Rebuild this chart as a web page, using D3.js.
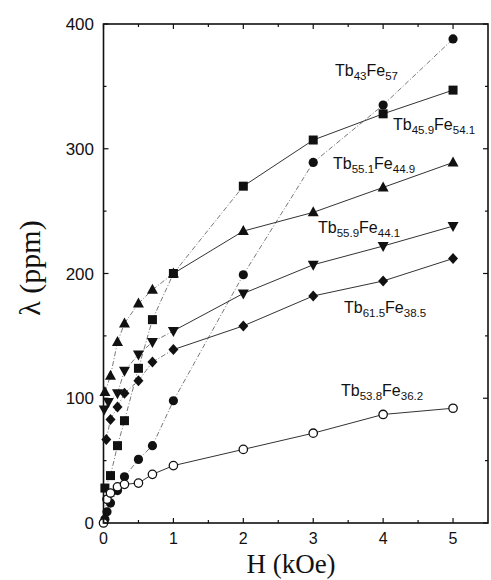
<!DOCTYPE html>
<html>
<head>
<meta charset="utf-8">
<script src="https://cdn.jsdelivr.net/npm/d3@7"></script>
<style>
  html, body { margin: 0; padding: 0; background: #fff; }
  svg { display: block; }
</style>
</head>
<body>
<div id="chart"></div>
<script>
// Magnetostriction λ versus applied field H for Tb–Fe films
const xTicks = [0, 1, 2, 3, 4, 5];
const yTicks = [0, 100, 200, 300, 400];

const hTb43 = [0.02, 0.05, 0.1, 0.2, 0.3, 0.5, 0.7, 1, 2, 3, 4, 5];
const lamTb43 = [3, 9, 16, 26, 37, 51, 62, 98, 199, 289, 335, 388];

const hTb459 = [0.02, 0.1, 0.2, 0.3, 0.5, 0.7, 1, 2, 3, 4, 5];
const lamTb459 = [28, 38, 62, 82, 124, 163, 200, 270, 307, 328, 347];

const hTb551 = [0.02, 0.1, 0.2, 0.3, 0.5, 0.7, 1, 2, 3, 4, 5];
const lamTb551 = [105, 118, 145, 160, 176, 187, 200, 234, 249, 269, 289];

const hTb559 = [0.01, 0.07, 0.2, 0.3, 0.5, 0.7, 1, 2, 3, 4, 5];
const lamTb559 = [91, 97, 104, 122, 135, 145, 154, 184, 207, 222, 238];

const hTb615 = [0.04, 0.1, 0.2, 0.3, 0.5, 0.7, 1, 2, 3, 4, 5];
const lamTb615 = [67, 83, 93, 104, 114, 129, 139, 158, 182, 194, 212];

const hTb538 = [0, 0.05, 0.1, 0.2, 0.3, 0.5, 0.7, 1, 2, 3, 4, 5];
const lamTb538 = [0, 19, 24, 29, 31, 32, 39, 46, 59, 72, 87, 92];

// composition labels: [Tb, subscript, Fe, subscript]
const labelTb43 = ["Tb", "43", "Fe", "57"];
const labelTb459 = ["Tb", "45.9", "Fe", "54.1"];
const labelTb551 = ["Tb", "55.1", "Fe", "44.9"];
const labelTb559 = ["Tb", "55.9", "Fe", "44.1"];
const labelTb615 = ["Tb", "61.5", "Fe", "38.5"];
const labelTb538 = ["Tb", "53.8", "Fe", "36.2"];

const W = 491, H = 580;
const plot = { left: 103.5, right: 488, top: 24, bottom: 523 };

const x = d3.scaleLinear().domain([0, 5.5]).range([plot.left, plot.right]);
const y = d3.scaleLinear().domain([0, 400]).range([plot.bottom, plot.top]);

const svg = d3.select("#chart").append("svg")
  .attr("width", W).attr("height", H);

const ink = "#111";

// series: marker shape, dash-dot limit (segments ending at or below it are dash-dot)
const series = [
  { h: hTb43, v: lamTb43, shape: "circle", dashTo: 99, label: labelTb43, lx: 335, ly: 76 },
  { h: hTb459, v: lamTb459, shape: "square", dashTo: 2, label: labelTb459, lx: 393, ly: 130 },
  { h: hTb551, v: lamTb551, shape: "triangleUp", dashTo: 1, label: labelTb551, lx: 333, ly: 169 },
  { h: hTb559, v: lamTb559, shape: "triangleDown", dashTo: 1, label: labelTb559, lx: 318, ly: 233 },
  { h: hTb615, v: lamTb615, shape: "diamond", dashTo: 1, label: labelTb615, lx: 344, ly: 313 },
  { h: hTb538, v: lamTb538, shape: "open", dashTo: 0.3, label: labelTb538, lx: 341, ly: 396 }
];

// connecting lines, segment by segment
const gLines = svg.append("g");
series.forEach(s => {
  const pts = s.h.map((hv, i) => [hv, s.v[i]]);
  for (let i = 1; i < pts.length; i++) {
    const a = pts[i - 1], b = pts[i];
    const dashed = b[0] <= s.dashTo;
    gLines.append("line")
      .attr("x1", x(a[0])).attr("y1", y(a[1]))
      .attr("x2", x(b[0])).attr("y2", y(b[1]))
      .attr("stroke", dashed ? "#555" : "#333")
      .attr("stroke-width", dashed ? 0.8 : 1)
      .attr("stroke-dasharray", dashed ? "5,2,1,2" : null);
  }
});

// markers
const gMarks = svg.append("g");
function marker(g, shape, cx, cy) {
  if (shape === "circle") {
    g.append("circle").attr("cx", cx).attr("cy", cy).attr("r", 4.6).attr("fill", ink);
  } else if (shape === "open") {
    g.append("circle").attr("cx", cx).attr("cy", cy).attr("r", 4.2)
      .attr("fill", "#fff").attr("stroke", ink).attr("stroke-width", 1.3);
  } else if (shape === "square") {
    g.append("rect").attr("x", cx - 4.5).attr("y", cy - 4.5)
      .attr("width", 9).attr("height", 9).attr("fill", ink);
  } else if (shape === "triangleUp") {
    g.append("path").attr("d", `M${cx},${cy - 6}L${cx + 5.5},${cy + 4}L${cx - 5.5},${cy + 4}Z`).attr("fill", ink);
  } else if (shape === "triangleDown") {
    g.append("path").attr("d", `M${cx},${cy + 6}L${cx + 5.5},${cy - 4}L${cx - 5.5},${cy - 4}Z`).attr("fill", ink);
  } else if (shape === "diamond") {
    g.append("path").attr("d", `M${cx},${cy - 5.5}L${cx + 5},${cy}L${cx},${cy + 5.5}L${cx - 5},${cy}Z`).attr("fill", ink);
  }
}
series.forEach(s => {
  s.h.forEach((hv, i) => marker(gMarks, s.shape, x(hv), y(s.v[i])));
});

// frame
svg.append("rect")
  .attr("x", plot.left).attr("y", plot.top)
  .attr("width", plot.right - plot.left).attr("height", plot.bottom - plot.top)
  .attr("fill", "none").attr("stroke", ink).attr("stroke-width", 1.6);

// inward ticks on all four sides
const xMajor = xTicks;
const xMinor = d3.range(0.5, 5.5, 1);
const yMajor = yTicks;
const yMinor = d3.range(50, 400, 100);
const gT = svg.append("g").attr("stroke", ink).attr("stroke-width", 1.2);
function xTick(v, len) {
  gT.append("line").attr("x1", x(v)).attr("x2", x(v)).attr("y1", plot.bottom).attr("y2", plot.bottom - len);
  gT.append("line").attr("x1", x(v)).attr("x2", x(v)).attr("y1", plot.top).attr("y2", plot.top + len);
}
function yTick(v, len) {
  gT.append("line").attr("y1", y(v)).attr("y2", y(v)).attr("x1", plot.left).attr("x2", plot.left + len);
  gT.append("line").attr("y1", y(v)).attr("y2", y(v)).attr("x1", plot.right).attr("x2", plot.right - len);
}
xMajor.forEach(v => xTick(v, 5));
xMinor.forEach(v => xTick(v, 3));
yMajor.forEach(v => yTick(v, 5));
yMinor.forEach(v => yTick(v, 3));

// tick labels
const tickFont = "Liberation Sans, Arial, Helvetica, sans-serif";
svg.append("g").selectAll("text").data(xTicks).join("text")
  .attr("x", d => x(d)).attr("y", 544)
  .attr("text-anchor", "middle")
  .attr("font-family", tickFont).attr("font-size", 16).attr("fill", ink)
  .text(d => d);
svg.append("g").selectAll("text").data(yTicks).join("text")
  .attr("x", 94).attr("y", d => y(d) + 6)
  .attr("text-anchor", "end")
  .attr("font-family", tickFont).attr("font-size", 17).attr("fill", ink)
  .text(d => d);

// axis titles
const serif = "Liberation Serif, Times New Roman, serif";
svg.append("text")
  .attr("x", 291).attr("y", 573)
  .attr("text-anchor", "middle")
  .attr("font-family", serif).attr("font-size", 27).attr("fill", ink)
  .text("H (kOe)");
svg.append("text")
  .attr("transform", "translate(40,268) rotate(-90)")
  .attr("text-anchor", "middle")
  .attr("font-family", serif).attr("font-size", 30).attr("fill", ink)
  .text("λ (ppm)");

// composition labels with subscripts
const gLab = svg.append("g")
  .attr("font-family", tickFont).attr("fill", ink);
series.forEach(s => {
  const t = gLab.append("text").attr("x", s.lx).attr("y", s.ly).attr("font-size", 16);
  s.label.forEach((part, i) => {
    const sub = i % 2 === 1;
    t.append("tspan")
      .attr("font-size", sub ? 11.5 : 16)
      .attr("dy", sub ? 4 : (i === 0 ? 0 : -4))
      .text(part);
  });
});
</script>
</body>
</html>
